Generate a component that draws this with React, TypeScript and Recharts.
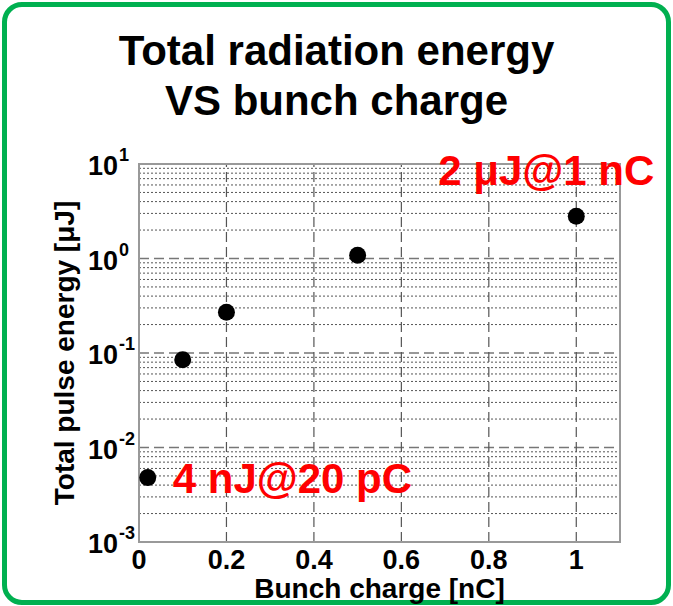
import React from "react";
import {
  ScatterChart,
  Scatter,
  XAxis,
  YAxis,
  ReferenceLine,
  ReferenceArea,
} from "recharts";

// bunch charge [nC] and total pulse energy [uJ]
const charges = [0.02, 0.1, 0.2, 0.5, 1.0];
const energies = [0.0048, 0.085, 0.27, 1.08, 2.8];
const notes = ["4 nJ@20 pC", "", "", "", "2 \u03bcJ@1 nC"];

const xTicks = [0, 0.2, 0.4, 0.6, 0.8, 1];
const decades = [0.001, 0.01, 0.1, 1, 10];
const minorSteps = [2, 3, 4, 5, 6, 7, 8, 9];

const data = charges.map((c, i) => ({ x: c, y: energies[i], note: notes[i] }));
const minorValues = decades.slice(0, -1).flatMap((d) => minorSteps.map((m) => d * m));
const majorValues = [0.01, 0.1, 1];
const vertValues = [0.2, 0.4, 0.6, 0.8, 1];

const FONT = "'Liberation Sans', Arial, sans-serif";

const YTick = ({ x, y, payload }: any) => {
  const exp = Math.round(Math.log10(payload.value));
  return (
    <g>
      <text x={x - 13} y={y + 11} textAnchor="end" fontSize={27} fontWeight="bold" fontFamily={FONT} fill="#000">
        10
      </text>
      <text x={x - 12} y={y - 3} textAnchor="start" fontSize={18} fontWeight="bold" fontFamily={FONT} fill="#000">
        {exp}
      </text>
    </g>
  );
};

const XTick = ({ x, y, payload }: any) => (
  <text x={x} y={y + 19} textAnchor="middle" fontSize={27} fontWeight="bold" fontFamily={FONT} fill="#000">
    {String(payload.value)}
  </text>
);

const Dot = ({ cx, cy, payload }: any) => {
  let label = null;
  if (payload.note) {
    const left = payload.x < 0.5;
    label = (
      <text
        x={left ? cx + 25 : cx - 30}
        y={left ? cy + 15 : cy - 31}
        textAnchor={left ? "start" : "middle"}
        fontSize={42}
        fontWeight="bold"
        fontFamily={FONT}
        fill="#ff0000"
      >
        {payload.note}
      </text>
    );
  }
  return (
    <g>
      <circle cx={cx} cy={cy} r={8.5} fill="#000" />
      {label}
    </g>
  );
};

export default function App() {
  return (
    <div style={{ position: "fixed", left: 0, top: 0, width: 673, height: 606, background: "#fff", fontFamily: FONT }}>
      <div
        style={{
          position: "absolute",
          left: 2,
          top: 2,
          width: 669,
          height: 603,
          border: "5px solid #00b050",
          borderRadius: 20,
          boxSizing: "border-box",
        }}
      />
      <div
        style={{
          position: "absolute",
          left: 0,
          top: 26,
          width: 673,
          textAlign: "center",
          fontSize: 42,
          lineHeight: "50px",
          fontWeight: "bold",
          color: "#000",
        }}
      >
        Total radiation energy
        <br />
        VS bunch charge
      </div>
      <div style={{ position: "absolute", left: 0, top: 0 }}>
        <ScatterChart width={673} height={606} margin={{ top: 164, right: 53, bottom: 0, left: 0 }}>
          <XAxis
            type="number"
            dataKey="x"
            domain={[0, 1.1]}
            ticks={xTicks}
            height={64}
            axisLine={false}
            tickLine={false}
            tick={<XTick />}
            label={{
              content: ({ viewBox }: any) => (
                <text
                  x={viewBox.x + viewBox.width / 2}
                  y={viewBox.y + 56}
                  textAnchor="middle"
                  fontSize={28}
                  fontWeight="bold"
                  fontFamily={FONT}
                  fill="#000"
                >
                  Bunch charge [nC]
                </text>
              ),
            }}
          />
          <YAxis
            type="number"
            dataKey="y"
            scale="log"
            domain={[0.001, 10]}
            ticks={decades}
            width={139}
            axisLine={false}
            tickLine={false}
            tick={<YTick />}
            label={{
              content: ({ viewBox }: any) => {
                const cx = viewBox.x + 74;
                const cy = viewBox.y + viewBox.height / 2;
                return (
                  <text
                    x={cx}
                    y={cy}
                    transform={`rotate(-90 ${cx} ${cy})`}
                    textAnchor="middle"
                    fontSize={28}
                    fontWeight="bold"
                    fontFamily={FONT}
                    fill="#000"
                  >
                    Total pulse energy [{"\u03bc"}J]
                  </text>
                );
              },
            }}
          />
          {minorValues.map((v) => (
            <ReferenceLine key={`mn-${v}`} y={v} stroke="#555" strokeDasharray="2 2" strokeWidth={1} zIndex={-10} />
          ))}
          {majorValues.map((v) => (
            <ReferenceLine key={`mj-${v}`} y={v} stroke="#777" strokeDasharray="10 5" strokeWidth={1.5} zIndex={-5} />
          ))}
          {vertValues.map((v) => (
            <ReferenceLine key={`vx-${v}`} x={v} stroke="#555" strokeDasharray="10 5" strokeWidth={1.2} zIndex={-5} />
          ))}
          <ReferenceArea x1={0} x2={1.1} y1={0.001} y2={10} fill="none" stroke="#999" strokeWidth={2} />
          <Scatter data={data} shape={<Dot />} isAnimationActive={false} />
        </ScatterChart>
      </div>
    </div>
  );
}
